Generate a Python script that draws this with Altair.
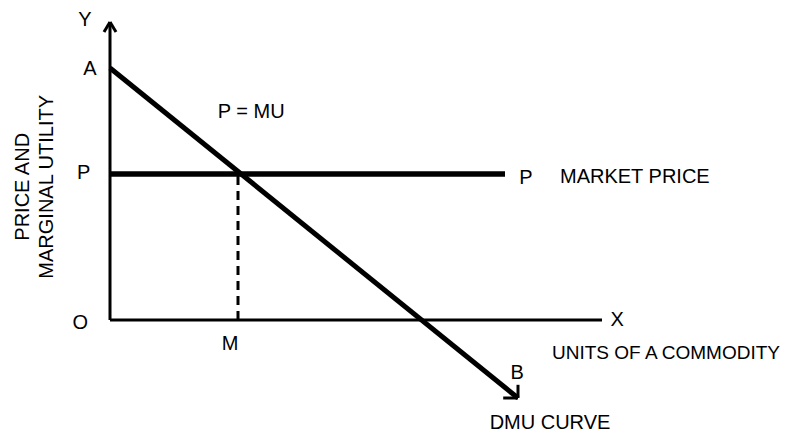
import altair as alt
import pandas as pd

# Diagram key values (1 unit = 40 px)
origin = (0.0, 0.0)
x_axis_end = 12.3
y_axis_end = 7.45
price_level = 3.65
price_line_end = 9.875
point_A = (0.0, 6.3)
point_B = (10.2, -1.95)
point_M = 3.2

seg_x = [0.0, 0.0, -0.15, 0.0, 9.83, 10.2]
seg_y = [0.0, 0.0, 7.2, 7.45, -1.95, -1.95]
seg_x2 = [x_axis_end, 0.0, 0.0, 0.15, 10.2, 10.2]
seg_y2 = [0.0, y_axis_end, 7.45, 7.2, -1.95, -1.62]

label_text = ["Y", "A", "P", "O", "M", "P = MU", "P", "X", "B", "DMU CURVE"]
label_x = [-0.625, -0.5, -0.66, -0.74, 3.0, 3.53, 10.4, 12.68, 10.18, 11.0]
label_y = [7.5, 6.28, 3.68, -0.08, -0.6, 5.2, 3.55, 0.0, -1.33, -2.58]

left_text = ["MARKET PRICE", "UNITS OF A COMMODITY"]
left_x = [11.25, 11.05]
left_y = [3.58, -0.83]
left_size = [20, 19]

ytitle_text = ["PRICE AND", "MARGINAL UTILITY"]
ytitle_x = [-2.175, -1.575]
ytitle_y = [3.33, 3.33]

W, H = 781, 426
xmin = -2.55
ymax = 7.8
xs = alt.Scale(domain=[xmin, xmin + W / 40], nice=False, zero=False)
ys = alt.Scale(domain=[ymax - H / 40, ymax], nice=False, zero=False)

segs = pd.DataFrame({"x": seg_x, "y": seg_y, "x2": seg_x2, "y2": seg_y2})
axes = alt.Chart(segs).mark_rule(color="black", strokeWidth=3).encode(
    x=alt.X("x:Q", scale=xs, axis=None),
    y=alt.Y("y:Q", scale=ys, axis=None),
    x2="x2:Q",
    y2="y2:Q",
)

price_df = pd.DataFrame({"x": [0.0], "x2": [price_line_end], "y": [price_level]})
price = alt.Chart(price_df).mark_rule(color="black", strokeWidth=5.5).encode(
    x=alt.X("x:Q", scale=xs, axis=None),
    x2="x2:Q",
    y=alt.Y("y:Q", scale=ys, axis=None),
)

dmu_df = pd.DataFrame({"x": [point_A[0]], "y": [point_A[1]],
                       "x2": [point_B[0]], "y2": [point_B[1]]})
dmu = alt.Chart(dmu_df).mark_rule(color="black", strokeWidth=5).encode(
    x=alt.X("x:Q", scale=xs, axis=None),
    y=alt.Y("y:Q", scale=ys, axis=None),
    x2="x2:Q",
    y2="y2:Q",
)

dash_df = pd.DataFrame({"x": [point_M], "y": [0.0], "y2": [price_level]})
dash = alt.Chart(dash_df).mark_rule(color="black", strokeWidth=3, strokeDash=[9, 6]).encode(
    x=alt.X("x:Q", scale=xs, axis=None),
    y=alt.Y("y:Q", scale=ys, axis=None),
    y2="y2:Q",
)

font = "Liberation Sans"
FS = 20
lab_df = pd.DataFrame({"t": label_text, "x": label_x, "y": label_y})
labels = alt.Chart(lab_df).mark_text(font=font, fontSize=FS, color="black",
                                     align="center", baseline="middle").encode(
    x=alt.X("x:Q", scale=xs, axis=None),
    y=alt.Y("y:Q", scale=ys, axis=None),
    text="t:N",
)

left_df = pd.DataFrame({"t": left_text, "x": left_x, "y": left_y, "s": left_size})
left_labels = alt.Chart(left_df).mark_text(font=font, color="black",
                                           align="left", baseline="middle").encode(
    x=alt.X("x:Q", scale=xs, axis=None),
    y=alt.Y("y:Q", scale=ys, axis=None),
    text="t:N",
    size=alt.Size("s:Q", scale=None, legend=None),
)

yt_df = pd.DataFrame({"t": ytitle_text, "x": ytitle_x, "y": ytitle_y})
ytitle = alt.Chart(yt_df).mark_text(font=font, fontSize=FS, color="black",
                                    align="center", baseline="middle", angle=270).encode(
    x=alt.X("x:Q", scale=xs, axis=None),
    y=alt.Y("y:Q", scale=ys, axis=None),
    text="t:N",
)

chart = alt.layer(axes, price, dmu, dash, labels, left_labels, ytitle).properties(
    width=W, height=H,
    autosize=alt.AutoSizeParams(type="none"),
    padding=0,
    background="white",
).configure_view(stroke=None)

chart.save("out.html", embed_options={"renderer": "svg", "actions": False})
